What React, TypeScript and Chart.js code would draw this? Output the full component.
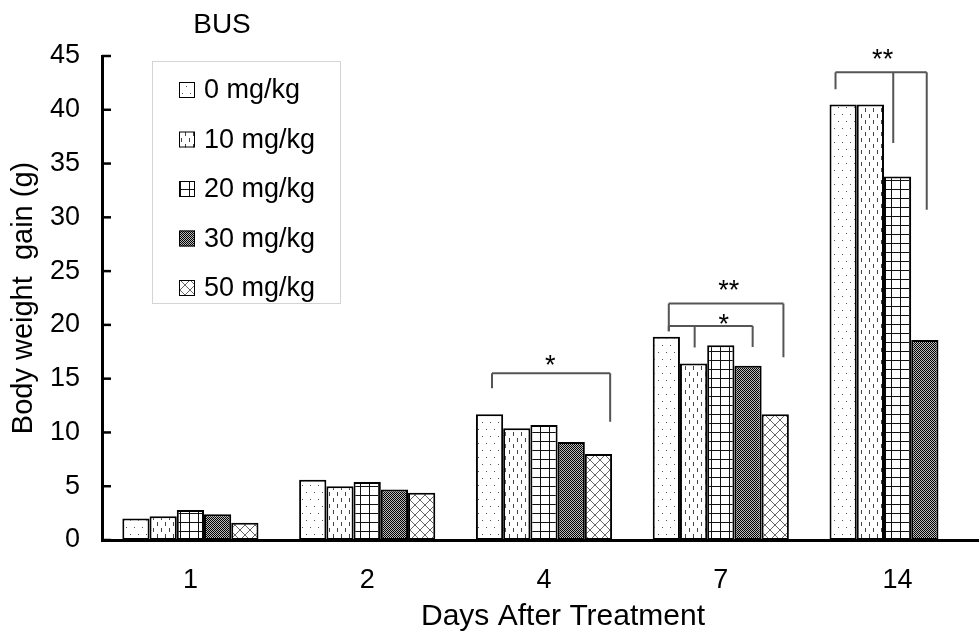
import React, { useEffect, useRef } from 'react';
import { Chart, registerables } from 'chart.js';

Chart.register(...registerables);

// ---- data ----
const categories = ['1', '2', '4', '7', '14'];
const seriesLabels = ['0 mg/kg', '10 mg/kg', '20 mg/kg', '30 mg/kg', '50 mg/kg'];
const dose0 = [2.0, 5.6, 11.7, 18.9, 40.5];
const dose10 = [2.2, 5.0, 10.4, 16.4, 40.5];
const dose20 = [2.8, 5.4, 10.7, 18.1, 33.8];
const dose30 = [2.4, 4.7, 9.1, 16.2, 18.6];
const dose50 = [1.6, 4.4, 8.0, 11.7, null];
const yMin = 0;
const yMax = 45;
const yStep = 5;
const chartTitle = 'BUS';
const xTitle = 'Days After Treatment';
const yTitle = 'Body weight  gain (g)';

// significance brackets: leg positions given as bar index + offset (in bar widths), values in data units
const brackets = [
  { cat: 2, y: 15.5, legs: [{ bar: 0, dx: 0.09, end: 14.1 }, { bar: 4, dx: 0.43, end: 11.0 }] },
  { cat: 3, y: 22.0, legs: [{ bar: 0, dx: 0.09, end: 19.4 }, { bar: 4, dx: 0.3, end: 17.0 }] },
  { cat: 3, y: 19.9, legs: [{ bar: 0, dx: 0.09, end: 19.4 }, { bar: 1, dx: 0.04, end: 17.9 }, { bar: 3, dx: 0.17, end: 17.95 }] },
  { cat: 4, y: 43.5, legs: [{ bar: 0, dx: -0.28, end: 41.9 }, { bar: 2, dx: -0.16, end: 36.9 }, { bar: 3, dx: 0.07, end: 30.7 }] },
];
const stars = [
  { cat: 2, bar: 2, dx: 0.23, y: 16.9, text: '*' },
  { cat: 3, bar: 2, dx: 0.29, y: 23.9, text: '**' },
  { cat: 3, bar: 2, dx: 0.11, y: 20.7, text: '*' },
  { cat: 4, bar: 1, dx: 0.45, y: 45.3, text: '**' },
];

const FONT = "'Liberation Sans', Arial, sans-serif";

function makePattern(kind: number): CanvasPattern {
  const c = document.createElement('canvas');
  const g = c.getContext('2d')!;
  if (kind === 0) {
    c.width = 16; c.height = 14;
    g.fillStyle = '#fff'; g.fillRect(0, 0, 16, 14);
    g.fillStyle = '#555';
    g.fillRect(2, 2, 1, 1); g.fillRect(10, 2, 1, 1);
    g.fillRect(6, 9, 1, 1); g.fillRect(14, 9, 1, 1);
  } else if (kind === 1) {
    c.width = 8; c.height = 12;
    g.fillStyle = '#fff'; g.fillRect(0, 0, 8, 12);
    g.fillStyle = '#444';
    g.fillRect(1, 0, 1, 4); g.fillRect(5, 6, 1, 4);
  } else if (kind === 2) {
    c.width = 9; c.height = 9;
    g.fillStyle = '#fff'; g.fillRect(0, 0, 9, 9);
    g.fillStyle = '#111';
    g.fillRect(0, 0, 1, 9); g.fillRect(0, 0, 9, 1);
  } else if (kind === 3) {
    c.width = 2; c.height = 2;
    g.fillStyle = '#bbb'; g.fillRect(0, 0, 2, 2);
    g.fillStyle = '#000';
    g.fillRect(0, 0, 1, 1); g.fillRect(1, 1, 1, 1);
  } else {
    c.width = 10; c.height = 10;
    g.fillStyle = '#fff'; g.fillRect(0, 0, 10, 10);
    g.strokeStyle = '#666'; g.lineWidth = 1;
    g.beginPath();
    g.moveTo(-1, -1); g.lineTo(11, 11);
    g.moveTo(11, -1); g.lineTo(-1, 11);
    g.stroke();
  }
  return g.createPattern(c, 'repeat')!;
}

export default function App() {
  const ref = useRef<HTMLCanvasElement | null>(null);

  useEffect(() => {
    const canvas = ref.current!;
    const patterns = [0, 1, 2, 3, 4].map(makePattern);
    const values = [dose0, dose10, dose20, dose30, dose50];

    const barPos = (chart: any, cat: number, bar: number, dx: number) => {
      const el = chart.getDatasetMeta(bar).data[cat] as any;
      const w = el.width;
      return el.x + dx * w;
    };

    const overlay = {
      id: 'overlay',
      afterDraw(chart: any) {
        const ctx = chart.ctx as CanvasRenderingContext2D;
        const ys = chart.scales.y;
        const area = chart.chartArea;
        ctx.save();
        // inward y ticks
        ctx.strokeStyle = '#000';
        ctx.lineWidth = 2.5;
        for (let v = yMin; v <= yMax; v += yStep) {
          const py = ys.getPixelForValue(v);
          ctx.beginPath();
          ctx.moveTo(area.left, py);
          ctx.lineTo(area.left + 9, py);
          ctx.stroke();
        }
        // brackets
        ctx.strokeStyle = '#555';
        ctx.lineWidth = 2;
        for (const b of brackets) {
          const xs = b.legs.map((l) => barPos(chart, b.cat, l.bar, l.dx));
          const py = ys.getPixelForValue(b.y);
          ctx.beginPath();
          ctx.moveTo(Math.min(...xs), py);
          ctx.lineTo(Math.max(...xs), py);
          b.legs.forEach((l, i) => {
            ctx.moveTo(xs[i], py);
            ctx.lineTo(xs[i], ys.getPixelForValue(l.end));
          });
          ctx.stroke();
        }
        // stars
        ctx.fillStyle = '#000';
        ctx.font = `27px ${FONT}`;
        ctx.textAlign = 'center';
        ctx.textBaseline = 'alphabetic';
        for (const s of stars) {
          const x = barPos(chart, s.cat, s.bar, s.dx);
          const py = ys.getPixelForValue(s.y);
          ctx.fillText(s.text, x, py + 0.58 * 27);
        }
        // title
        ctx.font = `28px ${FONT}`;
        ctx.textBaseline = 'middle';
        ctx.fillText(chartTitle, 222, 25);
        // x axis title
        ctx.font = `30px ${FONT}`;
        ctx.fillText(xTitle, 563, 617);
        // legend box
        ctx.strokeStyle = '#d4d4d4';
        ctx.lineWidth = 1;
        ctx.strokeRect(152.5, 61.5, 188, 242);
        ctx.font = `27px ${FONT}`;
        ctx.textAlign = 'left';
        seriesLabels.forEach((lab, i) => {
          const cy = 90 + i * 49.5;
          ctx.fillStyle = patterns[i];
          ctx.fillRect(179, cy - 8, 16, 16);
          ctx.strokeStyle = '#000';
          ctx.lineWidth = 1;
          ctx.strokeRect(179.5, cy - 7.5, 15, 15);
          ctx.fillStyle = '#000';
          ctx.fillText(lab, 204, cy + 1);
        });
        ctx.restore();
      },
    };

    const chart = new Chart(canvas, {
      type: 'bar',
      data: {
        labels: categories,
        datasets: seriesLabels.map((label, i) => ({
          label,
          data: values[i] as any,
          backgroundColor: patterns[i] as any,
          borderColor: '#000',
          borderWidth: 2,
          borderSkipped: false,
          categoryPercentage: 0.77,
          barPercentage: 1,
        })),
      },
      options: {
        responsive: false,
        animation: false,
        devicePixelRatio: 1,
        layout: { padding: { top: 56, left: 0, right: 0, bottom: 0 } },
        plugins: {
          legend: { display: false },
          title: { display: false },
          tooltip: { enabled: false },
        },
        scales: {
          x: {
            type: 'category',
            offset: true,
            grid: { display: false, drawTicks: false },
            border: { display: true, color: '#000', width: 3 },
            ticks: { font: { family: FONT, size: 27 }, color: '#000', padding: 24 },
            title: { display: false },
            afterFit: (s: any) => { s.height = 102; },
          },
          y: {
            min: yMin,
            max: yMax,
            ticks: { stepSize: yStep, font: { family: FONT, size: 27 }, color: '#000', padding: 22 },
            grid: { display: false, drawTicks: false },
            border: { display: true, color: '#000', width: 3 },
            title: {
              display: true,
              text: yTitle,
              font: { family: FONT, size: 29 },
              color: '#000',
              padding: { top: 7, bottom: 0 },
            },
            afterFit: (s: any) => { s.width = 102; },
          },
        },
      },
      plugins: [overlay],
    });
    return () => chart.destroy();
  }, []);

  return (
    <div style={{ position: 'fixed', left: 0, top: 0, width: 979, height: 642, overflow: 'hidden', background: '#fff' }}>
      <canvas ref={ref} width={986} height={642} style={{ display: 'block' }} />
    </div>
  );
}
